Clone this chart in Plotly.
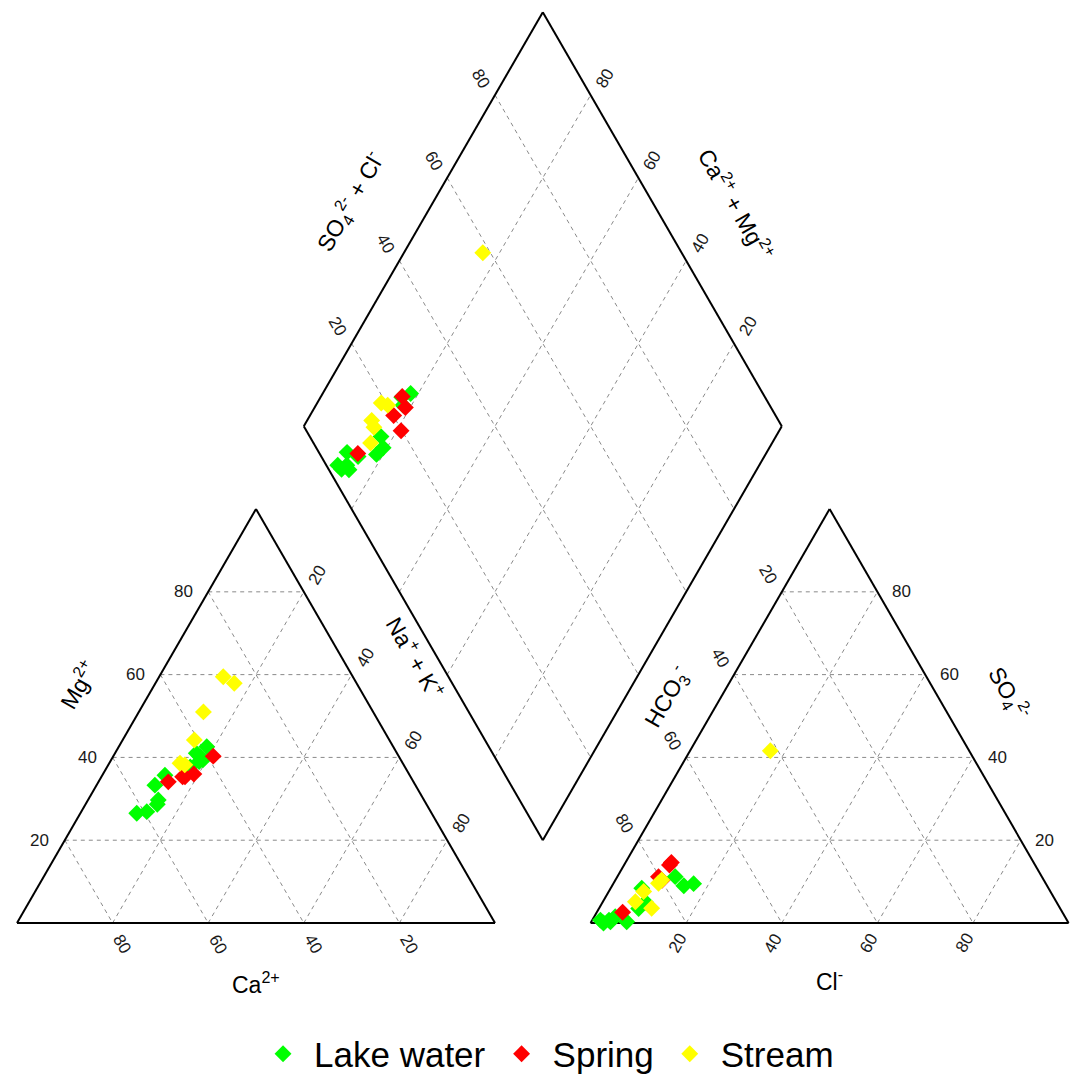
import numpy as np
import plotly.graph_objects as go

# ---------------- sample chemistry (% of meq/L) ----------------
groups = ["Lake water", "Spring", "Stream"]
group_colors = ["#00FF00", "#FF0000", "#FFFF00"]

# cations
lake_ca = [39.0, 41.6, 42.0, 44.9, 41.4, 42.4, 54.5, 59.4, 55.6, 61.7, 56.3, 51.2]
lake_mg = [42.6, 40.2, 41.0, 37.7, 39.4, 39.0, 33.3, 26.9, 29.7, 26.5, 28.7, 35.7]
lake_nak = [18.4, 18.2, 17.0, 17.4, 19.2, 18.6, 12.2, 13.7, 14.7, 11.8, 15.0, 13.1]
# anions
lake_hco3 = [73.7, 76.7, 76.0, 85.1, 86.0, 88.2, 94.1, 95.7, 95.8, 97.6, 92.3, 97.3]
lake_so4 = [9.5, 11.2, 9.0, 8.4, 5.0, 3.5, 1.5, 0.3, 0.7, 0.7, 0.3, 0.0]
lake_cl = [16.8, 12.1, 15.0, 6.5, 9.0, 8.3, 4.4, 4.0, 3.5, 1.7, 7.4, 2.7]

spring_ca = [38.8, 51.3, 47.7, 47.2, 45.0]
spring_mg = [40.3, 34.1, 35.3, 35.3, 36.0]
spring_nak = [20.9, 14.6, 17.0, 17.5, 19.0]
spring_hco3 = [80.2, 92.0, 75.8, 79.9, 76.5]
spring_so4 = [11.2, 2.6, 14.6, 10.3, 14.0]
spring_cl = [8.6, 5.4, 9.6, 9.8, 9.5]

stream_ca = [27.1, 25.6, 35.5, 40.8, 46.6, 45.8]
stream_mg = [59.5, 57.9, 51.0, 44.2, 38.6, 38.2]
stream_nak = [13.4, 16.5, 13.5, 15.0, 14.8, 16.0]
stream_hco3 = [81.0, 41.6, 85.1, 79.9, 85.45, 88.05]
stream_so4 = [9.6, 41.6, 7.6, 10.4, 3.55, 5.15]
stream_cl = [9.4, 16.8, 7.3, 9.7, 11.0, 6.8]

ticks = [20, 40, 60, 80]

# ---------------- Piper geometry (triangle side = 1) ----------------
S60 = np.sqrt(3) / 2
GAP = 0.2
X_AN = 1 + GAP                             # left corner of anion triangle
DL = (1 + GAP / 2 - 0.5, GAP * S60 + S60)  # left corner of the diamond


def cation_xy(ca, mg, nak):
    ca, mg, nak = (np.asarray(v, float) for v in (ca, mg, nak))
    t = ca + mg + nak
    m, k = mg / t, nak / t
    return k + m / 2, m * S60


def anion_xy(hco3, so4, cl):
    hco3, so4, cl = (np.asarray(v, float) for v in (hco3, so4, cl))
    t = hco3 + so4 + cl
    s, c = so4 / t, cl / t
    return X_AN + c + s / 2, s * S60


def diamond_xy(nak_f, sc_f):
    nak_f, sc_f = np.asarray(nak_f, float), np.asarray(sc_f, float)
    return DL[0] + 0.5 * (sc_f + nak_f), DL[1] + S60 * (sc_f - nak_f)


# ---------------- figure ----------------
PX = 478.0          # pixels per unit side
X0P, Y0P = 17, 923  # pixel location of the cation triangle's left corner
W, H = 1076, 1075

fig = go.Figure()
shapes = []
GRID = dict(color="#8a8a8a", width=1, dash="4px,4px")
EDGE = dict(color="black", width=2)


def seg(p, q, line):
    shapes.append(dict(type="line", xref="x", yref="y", x0=float(p[0]), y0=float(p[1]),
                       x1=float(q[0]), y1=float(q[1]), line=line, layer="below"))


# grid lines
for v in ticks:
    f = v / 100
    r = 1 - f
    # cation triangle: each component held constant
    seg(cation_xy(f, r, 0), cation_xy(f, 0, r), GRID)
    seg(cation_xy(r, f, 0), cation_xy(0, f, r), GRID)
    seg(cation_xy(r, 0, f), cation_xy(0, r, f), GRID)
    # anion triangle
    seg(anion_xy(f, r, 0), anion_xy(f, 0, r), GRID)
    seg(anion_xy(r, f, 0), anion_xy(0, f, r), GRID)
    seg(anion_xy(r, 0, f), anion_xy(0, r, f), GRID)
    # diamond
    seg(diamond_xy(f, 0), diamond_xy(f, 1), GRID)
    seg(diamond_xy(0, f), diamond_xy(1, f), GRID)

# outlines
corners_c = [cation_xy(1, 0, 0), cation_xy(0, 0, 1), cation_xy(0, 1, 0)]
corners_a = [anion_xy(1, 0, 0), anion_xy(0, 0, 1), anion_xy(0, 1, 0)]
corners_d = [diamond_xy(0, 0), diamond_xy(0, 1), diamond_xy(1, 1), diamond_xy(1, 0)]
for poly in (corners_c, corners_a, corners_d):
    for i in range(len(poly)):
        seg(poly[i], poly[(i + 1) % len(poly)], EDGE)

# sample markers
data = {
    "Lake water": (lake_ca, lake_mg, lake_nak, lake_hco3, lake_so4, lake_cl),
    "Spring": (spring_ca, spring_mg, spring_nak, spring_hco3, spring_so4, spring_cl),
    "Stream": (stream_ca, stream_mg, stream_nak, stream_hco3, stream_so4, stream_cl),
}
for name, color in zip(groups, group_colors):
    ca, mg, nak, hco3, so4, cl = data[name]
    cx, cy = cation_xy(ca, mg, nak)
    ax_, ay_ = anion_xy(hco3, so4, cl)
    nak_f = np.asarray(nak) / (np.asarray(ca) + np.asarray(mg) + np.asarray(nak))
    sc_f = (np.asarray(so4) + np.asarray(cl)) / (np.asarray(hco3) + np.asarray(so4) + np.asarray(cl))
    dx, dy = diamond_xy(nak_f, sc_f)
    fig.add_trace(go.Scatter(
        x=np.concatenate([cx, ax_, dx]), y=np.concatenate([cy, ay_, dy]),
        mode="markers", name=name, cliponaxis=False,
        marker=dict(symbol="diamond", size=13, color=color, line=dict(width=0)),
    ))

# tick labels
annotations = []
FONT = "Liberation Sans, Arial, sans-serif"


def label(xy, text, dx, dy, angle, size=17, color="#1a1a1a"):
    annotations.append(dict(x=float(xy[0]), y=float(xy[1]), xref="x", yref="y",
                            text=text, showarrow=False, xshift=dx, yshift=dy,
                            textangle=angle, font=dict(family=FONT, size=size, color=color)))


for v in ticks:
    f = v / 100
    r = 1 - f
    s = str(v)
    label(cation_xy(r, f, 0), s, -25, 0, 0)        # Mg2+
    label(cation_xy(f, 0, r), s, 10, -21, 60)      # Ca2+
    label(cation_xy(0, r, f), s, 14, 17, -60)      # Na+ + K+
    label(anion_xy(r, 0, f), s, -9, -20, -60)      # Cl-
    label(anion_xy(0, f, r), s, 24, 0, 0)          # SO4 2-
    label(anion_xy(f, r, 0), s, -14, 17, 60)       # HCO3-
    label(diamond_xy(0, f), s, -14, 17, 60)        # SO4 + Cl
    label(diamond_xy(r, 1), s, 14, 17, -60)        # Ca + Mg


def mid(p, q):
    return ((p[0] + q[0]) / 2, (p[1] + q[1]) / 2)


TS = 23
label(mid(corners_c[0], corners_c[2]), "Mg<sup>2+</sup>", -59, 31, -60, TS, "black")
label(mid(corners_c[0], corners_c[1]), "Ca<sup>2+</sup>", 0, -60, 0, TS, "black")
label(mid(corners_c[1], corners_c[2]), "Na<sup>+</sup> + K<sup>+</sup>", 40, 59, 60, TS, "black")
label(mid(corners_a[0], corners_a[2]), "HCO<sub>3</sub><sup>-</sup>", -44, 19, -60, TS, "black")
label(mid(corners_a[0], corners_a[1]), "Cl<sup>-</sup>", 0, -57, 0, TS, "black")
label(mid(corners_a[1], corners_a[2]), "SO<sub>4</sub><sup>2-</sup>", 60, 23, 60, TS, "black")
label(mid(corners_d[0], corners_d[1]), "SO<sub>4</sub><sup>2-</sup> + Cl<sup>-</sup>", -73, 18, -60, TS, "black")
label(mid(corners_d[1], corners_d[2]), "Ca<sup>2+</sup> + Mg<sup>2+</sup>", 74, 15, 60, TS, "black")

fig.update_layout(
    width=W, height=H,
    margin=dict(l=0, r=0, t=0, b=0, autoexpand=False),
    paper_bgcolor="white", plot_bgcolor="white",
    xaxis=dict(range=[-X0P / PX, (W - X0P) / PX], visible=False, fixedrange=True),
    yaxis=dict(range=[(Y0P - H) / PX, Y0P / PX], visible=False, fixedrange=True),
    shapes=shapes, annotations=annotations,
    showlegend=True,
    legend=dict(orientation="h", x=0.507, xanchor="center", y=0.0195, yanchor="middle",
                itemwidth=52,
                font=dict(family=FONT, size=35, color="black"), bgcolor="rgba(0,0,0,0)"),
)

fig.write_html("out.html")
